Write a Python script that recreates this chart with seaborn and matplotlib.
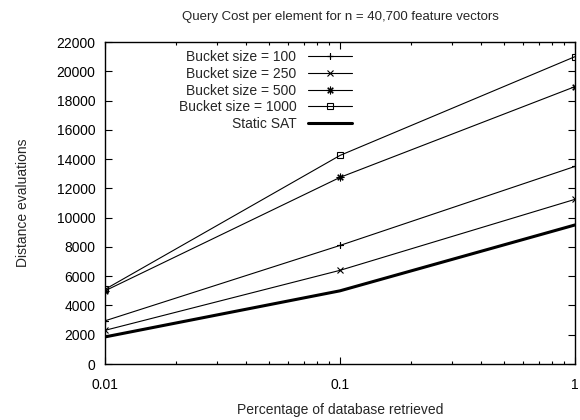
import matplotlib
matplotlib.use("Agg")
import matplotlib.pyplot as plt
import seaborn as sns
import pandas as pd
from matplotlib.ticker import LogLocator, FixedLocator, NullFormatter, FuncFormatter

# Fraction of the database retrieved (log axis)
fractions = [0.01, 0.1, 1]

# Distance evaluations per query element
bucket_100 = [2950, 8100, 13500]
bucket_250 = [2300, 6400, 11250]
bucket_500 = [5000, 12750, 18950]
bucket_1000 = [5100, 14250, 21000]
static_sat = [1850, 5000, 9500]

series_names = ["Bucket size = 100", "Bucket size = 250", "Bucket size = 500",
                "Bucket size = 1000", "Static SAT"]
series_values = [bucket_100, bucket_250, bucket_500, bucket_1000, static_sat]

y_ticks = list(range(0, 22001, 2000))
x_ticks = [0.01, 0.1, 1]
x_tick_labels = ["0.01", "0.1", "1"]

rows = []
for name, vals in zip(series_names, series_values):
    for f, v in zip(fractions, vals):
        rows.append({"fraction": f, "evals": v, "series": name})
df = pd.DataFrame(rows)

sns.set_theme(style="white")
plt.rcParams["font.family"] = ["Liberation Sans", "DejaVu Sans"]
plt.rcParams["font.size"] = 10

fig = plt.figure(figsize=(5.8, 4.2), dpi=100)
ax = fig.add_axes([105 / 580, 1 - 364 / 420, 470 / 580, 322 / 420])

styles = {
    "Bucket size = 100": dict(marker=(4, 2, 0), lw=0.8, ms=5),
    "Bucket size = 250": dict(marker="x", lw=0.8, ms=4.5),
    "Bucket size = 500": dict(marker=(8, 2, 0), lw=0.8, ms=5.5),
    "Bucket size = 1000": dict(marker="s", lw=0.8, ms=5, mfc="none"),
    "Static SAT": dict(marker=None, lw=2.2, ms=0),
}

for name in series_names:
    st = styles[name]
    sub = df[df["series"] == name]
    kw = dict(mew=0.8, mec="black")
    if "mfc" in st:
        kw["mfc"] = st["mfc"]
    sns.lineplot(data=sub, x="fraction", y="evals", ax=ax, color="black",
                 linewidth=st["lw"], marker=st["marker"], markersize=st["ms"],
                 label=name, legend=False, **kw)

ax.set_xscale("log")
ax.set_xlim(0.01, 1)
ax.set_ylim(0, 22000)
ax.xaxis.set_major_locator(FixedLocator(x_ticks))
ax.xaxis.set_major_formatter(FuncFormatter(lambda v, p: x_tick_labels[x_ticks.index(v)] if v in x_ticks else ""))
ax.xaxis.set_minor_locator(LogLocator(base=10, subs=range(2, 10)))
ax.xaxis.set_minor_formatter(NullFormatter())
ax.yaxis.set_major_locator(FixedLocator(y_ticks))
ax.set_yticklabels([str(v) for v in y_ticks])

ax.tick_params(which="both", direction="in", top=True, right=True,
               bottom=True, left=True, colors="black", labelsize=10, width=0.8)
ax.tick_params(which="major", length=5)
ax.tick_params(axis="y", which="major", pad=7)
ax.tick_params(axis="x", which="major", pad=10)
ax.tick_params(which="minor", length=2.5)
for sp in ax.spines.values():
    sp.set_color("black")
    sp.set_linewidth(1.0)

ax.set_xlabel("Percentage of database retrieved", fontsize=10, labelpad=8)
ax.set_ylabel("Distance evaluations", fontsize=10, labelpad=19)
ax.set_title("Query Cost per element for n = 40,700 feature vectors", fontsize=9.5, pad=16)

handles, labels = ax.get_legend_handles_labels()
leg = ax.legend(handles, labels, loc="upper right", markerfirst=False, frameon=False,
                bbox_to_anchor=(352 / 580, 1 - 50 / 420), bbox_transform=fig.transFigure,
                borderpad=0, borderaxespad=0, handlelength=3.2, handletextpad=0.8,
                labelspacing=0.2, fontsize=10)

fig.savefig("out.png", dpi=100)
